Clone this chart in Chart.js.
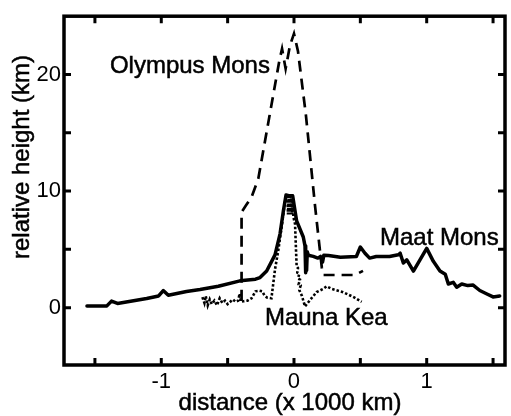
<!DOCTYPE html>
<html><head><meta charset="utf-8">
<script src="https://cdn.jsdelivr.net/npm/chart.js@4/dist/chart.umd.min.js"></script>
<style>html,body{margin:0;padding:0;background:#fff;}canvas{display:block;}</style>
</head><body>
<canvas id="c" width="511" height="416"></canvas>
<script>
// ---- data (distance in 1000 km, relative height in km) ----
const maatX = [-1.56,-1.41,-1.375,-1.33,-1.11,-1.02,-0.985,-0.947,-0.81,-0.708,-0.57,-0.407,-0.29,-0.256,-0.206,-0.143,-0.105,-0.08,-0.06,-0.04,-0.01,0.005,0.02,0.07,0.083,0.086,0.09,0.095,0.1,0.108,0.145,0.18,0.2,0.215,0.225,0.26,0.35,0.47,0.5,0.535,0.57,0.62,0.72,0.786,0.8,0.824,0.85,0.9,1.0,1.05,1.1,1.14,1.163,1.2,1.226,1.264,1.31,1.35,1.4,1.45,1.5,1.55];
const maatY = [0.15,0.15,0.56,0.36,0.78,1.0,1.47,1.06,1.39,1.56,1.83,2.3,2.44,2.58,3.14,4.53,6.33,8.3,9.67,9.6,9.6,8.5,7.44,6.06,5.3,3.0,5.0,3.2,4.8,4.5,4.4,4.25,4.4,3.9,4.5,4.47,4.33,4.39,5.2,4.67,4.25,4.39,4.39,4.53,4.67,3.83,4.1,3.14,5.08,3.97,3.14,2.86,2.03,2.17,1.75,2.03,1.89,1.94,1.47,1.19,0.92,1.0];

const olympusX = [-0.395,-0.395,-0.36,-0.319,-0.269,-0.143,-0.11,-0.09,-0.063,-0.03,0.0,0.03,0.09,0.158,0.21,0.22,0.46,0.52];
const olympusY = [0.6,8.2,8.8,9.5,11.06,19.1,21.2,22.2,20.5,22.5,23.5,22.0,16.5,8.8,3.4,2.8,2.8,3.15];

const maunaX = [-0.69,-0.675,-0.665,-0.65,-0.635,-0.62,-0.6,-0.58,-0.56,-0.54,-0.52,-0.5,-0.48,-0.46,-0.44,-0.42,-0.41,-0.4,-0.38,-0.35,-0.32,-0.29,-0.26,-0.24,-0.22,-0.2,-0.17,-0.143,-0.118,-0.093,-0.068,-0.05,-0.045,-0.04,-0.035,-0.03,-0.025,-0.02,-0.015,-0.01,-0.005,0.008,0.015,0.02,0.03,0.025,0.04,0.03,0.045,0.035,0.05,0.04,0.06,0.083,0.12,0.17,0.22,0.246,0.284,0.37,0.45,0.51];
const maunaY = [0.9,0.4,1.0,0.2,0.7,0.3,0.6,0.2,0.8,0.4,0.6,0.3,0.5,0.7,0.5,0.6,1.2,0.5,0.55,0.6,0.8,1.4,1.45,1.4,1.0,0.85,0.8,3.28,4.94,6.9,9.1,9.7,8.0,9.6,8.0,9.5,8.0,9.4,8.0,9.3,7.8,7.17,5.0,3.56,3.4,3.0,2.9,2.5,2.4,2.0,1.9,1.5,1.0,0.1,0.64,1.33,1.61,1.83,1.61,1.33,0.9,0.5];

const xTicks = [-1.5,-1,-0.5,0,0.5,1,1.5];
const xLabeled = [-1,0,1];
const yTicks = [0,5,10,15,20];
const yLabeled = [0,10,20];

const seriesNames = ['Olympus Mons','Maat Mons','Mauna Kea'];
const nameAnchorX = [-1.387,0.648,-0.219];
const nameAnchorY = [20.1,5.36,-1.5];

const xTitle = 'distance (x 1000 km)';
const yTitle = 'relative height (km)';

const FONT = '"Liberation Sans", Arial, Helvetica, sans-serif';
const pts = (xs, ys) => xs.map((v, i) => ({x: v, y: ys[i]}));

const framePlugin = {
  id: 'frame',
  afterDraw(chart) {
    const {ctx, chartArea: a, scales: {x, y}} = chart;
    ctx.save();
    ctx.strokeStyle = '#000';
    ctx.lineWidth = 3.5;
    ctx.strokeRect(a.left, a.top, a.right - a.left, a.bottom - a.top);
    ctx.lineWidth = 3;
    const L = 7;
    x.ticks.forEach(t => {
      const p = x.getPixelForValue(t.value);
      ctx.beginPath();
      ctx.moveTo(p, a.bottom); ctx.lineTo(p, a.bottom - L);
      ctx.moveTo(p, a.top); ctx.lineTo(p, a.top + L);
      ctx.stroke();
    });
    y.ticks.forEach(t => {
      const p = y.getPixelForValue(t.value);
      ctx.beginPath();
      ctx.moveTo(a.left, p); ctx.lineTo(a.left + L, p);
      ctx.moveTo(a.right, p); ctx.lineTo(a.right - L, p);
      ctx.stroke();
    });
    ctx.fillStyle = '#000';
    ctx.lineWidth = 0.5;
    ctx.font = '24px ' + FONT;
    ctx.textAlign = 'left';
    ctx.textBaseline = 'alphabetic';
    seriesNames.forEach((n, i) => {
      const px = x.getPixelForValue(nameAnchorX[i]), py = y.getPixelForValue(nameAnchorY[i]);
      ctx.fillText(n, px, py);
      ctx.strokeText(n, px, py);
    });
    ctx.font = '24px ' + FONT;
    ctx.textAlign = 'center';
    ctx.textBaseline = 'middle';
    ctx.fillText(xTitle, 290, 403);
    ctx.strokeText(xTitle, 290, 403);
    ctx.translate(22, 157);
    ctx.rotate(-Math.PI / 2);
    ctx.fillText(yTitle, 0, 0);
    ctx.strokeText(yTitle, 0, 0);
    ctx.restore();
  }
};

new Chart(document.getElementById('c'), {
  type: 'scatter',
  data: {
    datasets: [
      {label: 'Olympus Mons', data: pts(olympusX, olympusY), showLine: true, borderColor: '#000', borderWidth: 2.7, borderDash: [11, 7], pointRadius: 0, tension: 0, fill: false},
      {label: 'Mauna Kea', data: pts(maunaX, maunaY), showLine: true, borderColor: '#000', borderWidth: 2.6, borderDash: [2.5, 2], pointRadius: 0, tension: 0, fill: false},
      {label: 'Maat Mons', data: pts(maatX, maatY), showLine: true, borderColor: '#000', borderWidth: 3.5, pointRadius: 0, tension: 0, fill: false, borderJoinStyle: 'round', borderCapStyle: 'round'}
    ]
  },
  options: {
    responsive: false,
    devicePixelRatio: 1,
    animation: false,
    layout: {padding: {top: 6, right: 6, left: 0, bottom: 0}},
    plugins: {legend: {display: false}, tooltip: {enabled: false}},
    scales: {
      x: {
        type: 'linear', min: -1.733, max: 1.59,
        afterBuildTicks: s => { s.ticks = xTicks.map(v => ({value: v})); },
        afterFit: s => { s.height = 51; },
        grid: {display: false, drawTicks: false},
        border: {display: false},
        ticks: {color: '#000', font: {family: FONT, size: 22}, padding: 4, maxRotation: 0, autoSkip: false,
          callback: v => xLabeled.includes(v) ? String(v) : ''}
      },
      y: {
        type: 'linear', min: -4.92, max: 25,
        afterBuildTicks: s => { s.ticks = yTicks.map(v => ({value: v})); },
        afterFit: s => { s.width = 64; },
        grid: {display: false, drawTicks: false},
        border: {display: false},
        ticks: {color: '#000', font: {family: FONT, size: 22}, padding: 3, autoSkip: false,
          callback: v => yLabeled.includes(v) ? String(v) : ''}
      }
    }
  },
  plugins: [framePlugin]
});
</script>
</body></html>
